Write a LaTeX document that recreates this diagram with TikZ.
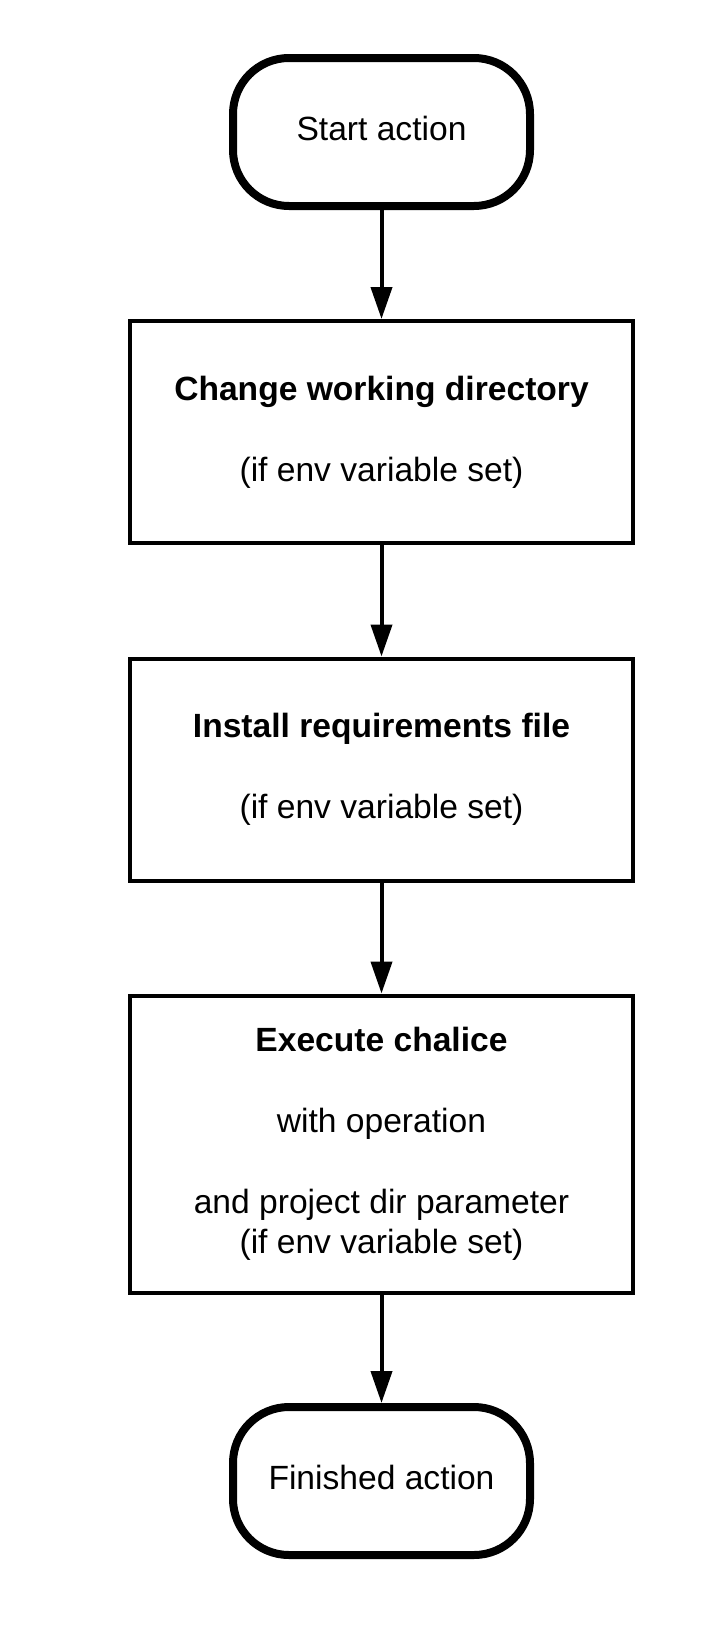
\documentclass[tikz,border=0pt]{standalone}
\usepackage{fontspec}
\setmainfont{Liberation Sans}
\usetikzlibrary{arrows.meta}
\begin{document}
\begin{tikzpicture}[x=0.5pt,y=-0.5pt,
  every node/.style={font=\fontsize{16.8}{20}\selectfont, align=center, inner sep=0pt},
  terminal/.style={draw=black, line width=4pt, rounded corners=28pt,
    minimum width=148.5pt, minimum height=74pt, text depth=3.5pt},
  procbox/.style={draw=black, line width=2pt, minimum width=251.5pt},
  flow/.style={line width=2pt, -{Triangle[width=10.5pt,length=16pt]}}]
\fill[white] (0,0) rectangle (710,1633);
\node[terminal] (start) at (381.5,132) {Start action};
\node[procbox, minimum height=111pt] (cwd) at (381.5,432)
  {\textbf{Change working directory}\\[20.5pt](if env variable set)};
\node[procbox, minimum height=111pt] (req) at (381.5,769.5)
  {\textbf{Install requirements file}\\[20.5pt](if env variable set)};
\node[procbox, minimum height=148.5pt] (exec) at (381.5,1144)
  {\textbf{Execute chalice}\\[20.5pt]with operation\\[20.5pt]and project dir parameter\\(if env variable set)};
\node[terminal] (fin) at (381.5,1481) {Finished action};
\draw[flow] (start) -- (cwd);
\draw[flow] (cwd) -- (req);
\draw[flow] (req) -- (exec);
\draw[flow] (exec) -- (fin);
\end{tikzpicture}
\end{document}
